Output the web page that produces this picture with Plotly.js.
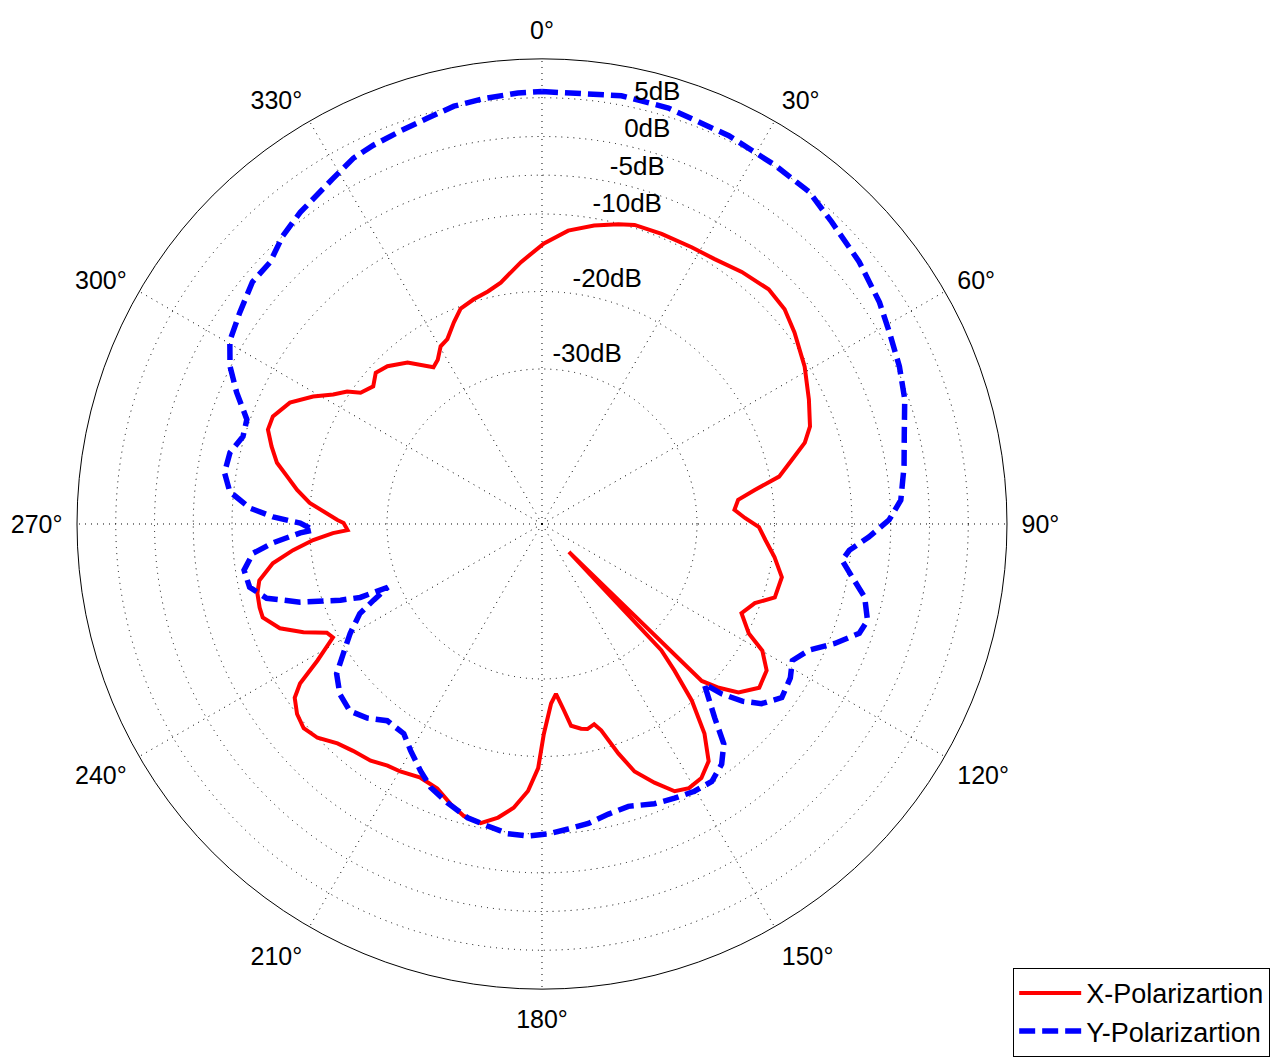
<!DOCTYPE html>
<html><head><meta charset="utf-8">
<script src="https://cdn.plot.ly/plotly-3.0.1.min.js"></script>
<style>html,body{margin:0;padding:0;background:#fff;} #chart{width:1274px;height:1059px;}</style>
</head><body><div id="chart"></div>
<script>
// X-Polarization (red, solid), traversed clockwise starting at the deep null near 136 deg
const xTheta = [136.0,136.6,137.9,139.7,142.2,144.9,147.9,150.9,153.6,156.5,159.5,161.6,164.0,165.4,167.5,169.2,171.8,173.3,175.3,177.1,179.5,180.9,183.0,185.7,188.5,191.6,195.0,198.1,201.6,205.6,209.8,212.6,215.9,219.8,223.0,226.4,229.4,232.2,234.9,236.6,238.7,241.5,243.2,245.6,248.3,251.5,253.5,256.3,258.7,261.7,264.0,266.0,267.5,268.2,270.3,271.1,275.2,277.9,280.5,283.0,286.0,289.0,291.8,295.7,299.1,301.8,304.2,305.9,309.2,312.3,315.6,320.2,325.3,327.6,330.3,332.9,336.4,339.3,343.1,346.9,350.3,355.4,0.4,5.1,9.9,14.3,17.2,22.4,28.4,33.1,38.4,44.0,48.5,52.8,59.1,65.0,70.0,72.8,75.6,78.7,80.9,83.0,85.8,88.3,90.8,94.1,98.1,102.5,107.5,110.4,114.1,117.9,119.9,123.1,127.0,130.6,132.8,134.5,136.0];
const xR = [-45.0,-27.6,-24.5,-20.1,-15.8,-12.6,-11.3,-11.0,-11.5,-13.6,-15.9,-18.8,-22.3,-23.3,-22.9,-23.1,-23.7,-25.8,-28.0,-26.8,-22.9,-18.5,-15.5,-13.2,-11.7,-10.6,-11.0,-12.0,-13.3,-13.7,-13.2,-13.0,-12.3,-11.9,-11.3,-10.0,-9.5,-10.0,-11.0,-12.6,-16.1,-19.3,-18.9,-16.2,-13.6,-12.0,-12.0,-12.2,-12.8,-14.9,-17.7,-20.4,-23.0,-24.9,-24.4,-23.6,-19.9,-18.1,-16.6,-14.9,-13.7,-12.6,-12.6,-13.9,-16.2,-18.3,-19.6,-21.1,-21.9,-21.0,-21.5,-22.9,-25.4,-24.9,-23.6,-23.2,-21.6,-20.3,-19.7,-19.2,-18.4,-16.1,-13.8,-12.0,-10.9,-10.1,-9.6,-9.5,-9.4,-9.2,-8.5,-7.9,-8.2,-9.1,-10.5,-12.0,-13.2,-14.5,-16.7,-18.8,-22.2,-24.5,-25.1,-23.8,-22.0,-21.1,-19.7,-18.3,-18.5,-20.7,-21.8,-19.8,-17.2,-15.4,-14.9,-16.6,-18.9,-21.1,-45.0];

// Y-Polarization (blue, dashed)
const yTheta = [0,10.5,16.9,25.7,33.0,38.8,43.8,50.4,56.7,61.1,66.2,71.0,75.9,81.0,86.2,89.3,92.3,94.9,96.9,99.7,102.8,106.5,109.0,112.2,115.3,118.6,121.8,125.9,129.3,131.5,133.4,134.6,138.3,140.4,143.2,146.6,150.3,154.2,158.1,163.0,167.1,171.2,175.1,178.9,182.6,186.3,190.2,194.2,198.7,202.9,206.2,210.1,213.4,218.2,222.0,225.8,229.9,233.9,236.9,240.3,243.8,245.7,247.7,248.0,249.3,252.1,254.9,257.8,261.2,264.2,266.0,267.9,268.5,270.2,271.5,273.1,275.9,279.2,282.9,286.3,289.5,293.3,296.8,300.4,305.0,309.9,313.9,318.0,322.2,324.9,328.8,332.7,336.0,340.2,344.2,348.1,352.2,356.8,360];
const yR = [5.8,6.2,6.1,5.6,5.2,5.0,4.0,3.1,2.1,1.2,0.4,-0.5,-1.8,-2.7,-3.6,-5.2,-7.8,-10.2,-11.0,-9.4,-7.3,-6.2,-6.7,-9.2,-11.9,-13.2,-12.3,-11.8,-13.4,-15.5,-18.1,-20.6,-16.5,-13.2,-11.3,-10.2,-10.3,-10.7,-11.1,-11.9,-11.6,-10.9,-10.5,-10.0,-9.7,-9.8,-10.4,-10.9,-12.0,-13.1,-14.5,-16.2,-17.6,-17.7,-16.3,-15.4,-15.9,-17.2,-19.4,-21.5,-23.8,-26.2,-28.5,-24.7,-22.2,-17.2,-13.2,-11.4,-11.1,-12.5,-15.2,-18.8,-20.5,-18.8,-15.3,-12.3,-9.5,-8.5,-8.7,-9.8,-9.6,-7.1,-4.9,-3.3,-2.4,-1.3,-1.3,0.0,0.9,1.3,2.1,3.1,3.5,3.9,4.4,5.1,5.4,5.7,5.8];

const angleTicks = [0,30,60,90,120,150,180,210,240,270,300,330];
const angleLabels = ["0°","30°","60°","90°","120°","150°","180°","210°","240°","270°","300°","330°"];
const radialTicks = [-30,-20,-10,-5,0,5];
const radialLabels = ["-30dB","-20dB","-10dB","-5dB","0dB","5dB"];
const labelAngle = 15;      // direction of the ring labels
const labelOffset = 2.5;    // labels sit just outside their ring

const FONT = "Liberation Sans, Arial, Helvetica, sans-serif";

const traces = [
  {type:'scatterpolar', mode:'lines', name:'X-Polarizartion', theta:xTheta, r:xR,
   line:{color:'#ff0000', width:4}, hoverinfo:'skip'},
  {type:'scatterpolar', mode:'lines', name:'Y-Polarizartion', theta:yTheta, r:yR,
   line:{color:'#0000ff', width:5.5, dash:'16px,7px'}, hoverinfo:'skip'},
  {type:'scatterpolar', mode:'text', showlegend:false, hoverinfo:'skip',
   theta: radialTicks.map(()=>labelAngle), r: radialTicks.map(v=>v+labelOffset),
   text: radialLabels, textposition:'middle center', cliponaxis:false,
   textfont:{family:FONT, size:26, color:'#000'}}
];

const layout = {
  width:1274, height:1059,
  margin:{l:0,r:0,t:0,b:0},
  paper_bgcolor:'#fff',
  font:{family:FONT, color:'#000'},
  showlegend:true,
  polar:{
    domain:{x:[0.06044,0.79042], y:[0.0661,0.9443]},
    bgcolor:'#fff',
    angularaxis:{
      rotation:90, direction:'clockwise',
      tickmode:'array', tickvals:angleTicks, ticktext:angleLabels,
      showline:true, linecolor:'#000', linewidth:1,
      showgrid:true, gridcolor:'#000', gridwidth:1, griddash:'1px,5px',
      ticks:'outside', ticklen:9, tickcolor:'rgba(0,0,0,0)',
      tickfont:{family:FONT, size:25, color:'#000'}
    },
    radialaxis:{
      range:[-50,10], tickmode:'array', tickvals:radialTicks,
      showticklabels:false, ticks:'', showline:false,
      showgrid:true, gridcolor:'#000', gridwidth:1, griddash:'1px,5px',
      angle:75
    }
  },
  legend:{
    x:0.997, xanchor:'right', y:0.002, yanchor:'bottom',
    bgcolor:'#fff', bordercolor:'#000', borderwidth:1,
    itemwidth:62,
    font:{family:FONT, size:27, color:'#000'}
  }
};

Plotly.newPlot('chart', traces, layout, {displayModeBar:false, staticPlot:true});
</script>
</body></html>
